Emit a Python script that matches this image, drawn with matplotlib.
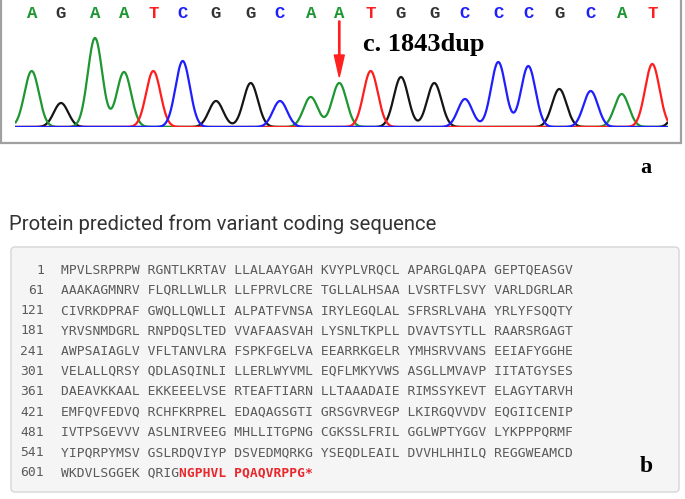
import numpy as np
import matplotlib
matplotlib.use("Agg")
import matplotlib.pyplot as plt
from matplotlib.patches import Rectangle, FancyBboxPatch

# ---------------- data ----------------
base_calls = list("AGAATCGGCAATGGCCCGCAT")
peak_pos = [31.7, 61, 95, 124, 153.3, 182.7, 216, 250.7, 280, 310.7, 339.3,
            370.7, 401, 434.3, 465, 498.3, 528.3, 559.3, 590.7, 621.7, 652.3]
peak_height = [56, 24, 89, 55, 56, 66, 26, 44, 26, 30, 44,
               56, 50, 44, 28, 65, 61, 38, 36, 33, 63]
# partial peak at right edge (next base, off-screen)
extra_base = ["G"]
extra_pos = [683]
extra_height = [45]

mutation_label = "c. 1843dup"
mutation_index = 10

title = "Protein predicted from variant coding sequence"
row_numbers = ["1", "61", "121", "181", "241", "301", "361", "421", "481", "541", "601"]
row_seqs = [
    "MPVLSRPRPW RGNTLKRTAV LLALAAYGAH KVYPLVRQCL APARGLQAPA GEPTQEASGV",
    "AAAKAGMNRV FLQRLLWLLR LLFPRVLCRE TGLLALHSAA LVSRTFLSVY VARLDGRLAR",
    "CIVRKDPRAF GWQLLQWLLI ALPATFVNSA IRYLEGQLAL SFRSRLVAHA YRLYFSQQTY",
    "YRVSNMDGRL RNPDQSLTED VVAFAASVAH LYSNLTKPLL DVAVTSYTLL RAARSRGAGT",
    "AWPSAIAGLV VFLTANVLRA FSPKFGELVA EEARRKGELR YMHSRVVANS EEIAFYGGHE",
    "VELALLQRSY QDLASQINLI LLERLWYVML EQFLMKYVWS ASGLLMVAVP IITATGYSES",
    "DAEAVKKAAL EKKEEELVSE RTEAFTIARN LLTAAADAIE RIMSSYKEVT ELAGYTARVH",
    "EMFQVFEDVQ RCHFKRPREL EDAQAGSGTI GRSGVRVEGP LKIRGQVVDV EQGIICENIP",
    "IVTPSGEVVV ASLNIRVEEG MHLLITGPNG CGKSSLFRIL GGLWPTYGGV LYKPPPQRMF",
    "YIPQRPYMSV GSLRDQVIYP DSVEDMQRKG YSEQDLEAIL DVVHLHHILQ REGGWEAMCD",
    "WKDVLSGGEK QRIG",
]
frameshift_seq = "NGPHVL PQAQVRPPG*"

base_colors = {"A": "#1e9632", "G": "#151515", "T": "#ff1e1e", "C": "#1e1eff"}
letter_colors = {"A": "#1e9632", "G": "#333333", "T": "#ff1e1e", "C": "#1e1eff"}

# ---------------- figure ----------------
W, H = 685, 499
fig = plt.figure(figsize=(W / 100, H / 100), dpi=100)
fig.patch.set_facecolor("white")

ax0 = fig.add_axes([0, 0, 1, 1])
ax0.set_xlim(0, W)
ax0.set_ylim(H, 0)
ax0.axis("off")

# top panel frame
ax0.add_patch(Rectangle((1, -10), 680, 153, fill=False, ec="#a0a0a0", lw=1.6))
ax0.text(646, 168, "a", family="Liberation Serif", fontweight="bold",
         fontsize=16, ha="center", va="center")

# chromatogram axes
x0, x1 = 15, 668
base_y, top_y = 127, 27
axc = fig.add_axes([x0 / W, 1 - base_y / H, (x1 - x0) / W, (base_y - top_y) / H])
axc.set_xlim(x0, x1)
axc.set_ylim(0, base_y - top_y)
axc.axis("off")
axc.patch.set_alpha(0)

xs = np.linspace(x0, x1, 2000)
sigma = 7.2
all_b = base_calls + extra_base
all_p = peak_pos + extra_pos
all_h = peak_height + extra_height
for ch in ["G", "A", "T", "C"]:
    y = np.zeros_like(xs)
    for b, p, h in zip(all_b, all_p, all_h):
        if b == ch:
            y += h * np.exp(-0.5 * ((xs - p) / sigma) ** 2)
    axc.plot(xs, y, color=base_colors[ch], lw=1.6, solid_capstyle="butt")

for b, p in zip(base_calls, peak_pos):
    axc.text(p, base_y - 14, b, family="Liberation Mono", fontweight="bold",
             fontsize=12.5, color=letter_colors[b], ha="center", va="center",
             clip_on=False)

mx = peak_pos[mutation_index]
axc.arrow(mx, base_y - 21, 0, -(77 - 21), width=1.3, head_width=10,
          head_length=22, length_includes_head=True, color="#ff2020",
          clip_on=False)
axc.text(363, base_y - 45, mutation_label, family="Liberation Serif",
         fontweight="bold", fontsize=19, ha="left", va="center", clip_on=False)

# bottom panel
ax0.text(9, 224, title, family="Roboto", fontsize=14.6, color="#333333",
         ha="left", va="center")
ax0.add_patch(FancyBboxPatch((11, 247), 668, 245,
                             boxstyle="round,pad=0,rounding_size=4",
                             fc="#f5f5f5", ec="#d6d6d6", lw=1))

row_y0, row_dy = 270, 20.3
seq_font = dict(family="DejaVu Sans Mono", fontsize=9.4, color="#5a5a5a",
                va="center")
last_txt = None
for i, (n, s) in enumerate(zip(row_numbers, row_seqs)):
    y = row_y0 + i * row_dy
    ax0.text(44, y, n, ha="right", **seq_font)
    last_txt = ax0.text(61, y, s, ha="left", **seq_font)
ax0.annotate(frameshift_seq, xy=(1, 0.5), xycoords=last_txt, ha="left",
             va="center", family="DejaVu Sans Mono", fontsize=9.4,
             color="#e8282d", fontweight="bold")

ax0.text(646, 467, "b", family="Liberation Serif", fontweight="bold",
         fontsize=17, ha="center", va="center")

fig.savefig("out.png", dpi=100)
